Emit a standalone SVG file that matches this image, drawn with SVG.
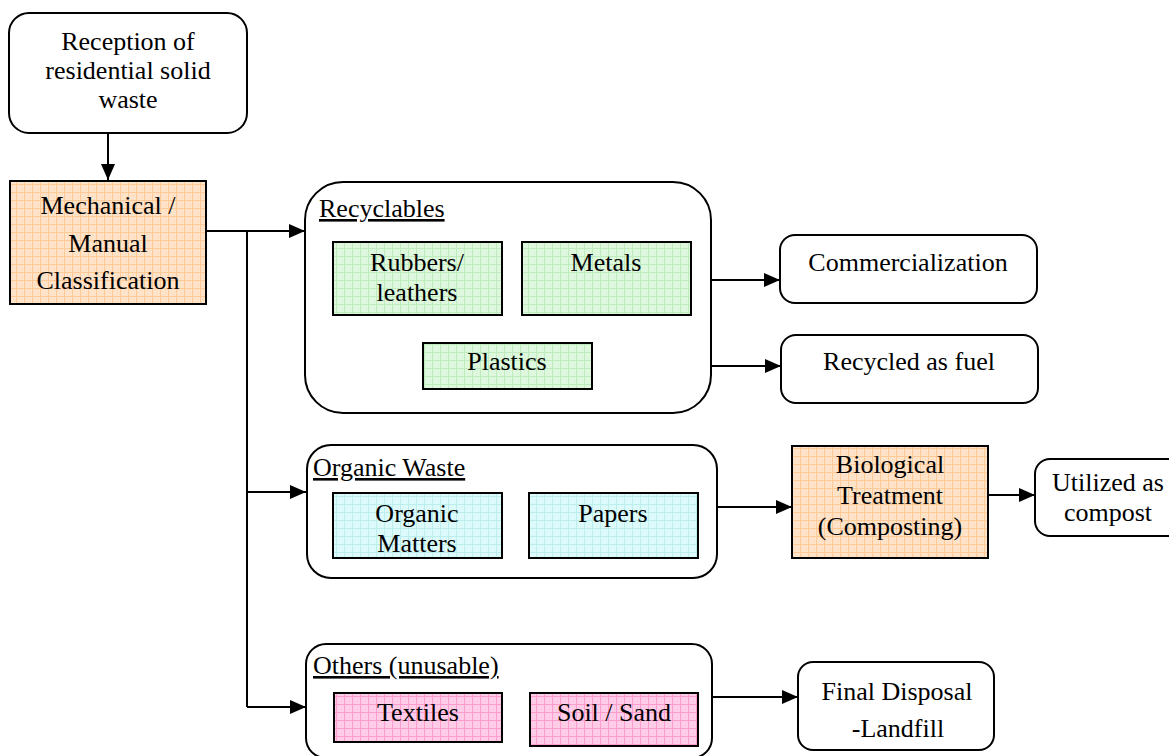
<svg xmlns="http://www.w3.org/2000/svg" width="1169" height="756" viewBox="0 0 1169 756">
<style>
.t{font-family:"Liberation Serif","Times New Roman",serif;font-size:26px;fill:#000;text-anchor:middle}
.l{font-family:"Liberation Serif","Times New Roman",serif;font-size:26px;fill:#000;text-decoration:underline}
.b{stroke:#000;stroke-width:2;fill:#fff}
.c{stroke:#000;stroke-width:2;fill:none}
</style>
<defs>
<pattern id="pOr" width="8" height="8" patternUnits="userSpaceOnUse"><rect width="8" height="8" fill="#FFE3C8"/><path d="M0 0.5H8M0.5 0V8" stroke="#FFC998" stroke-width="1"/></pattern>
<pattern id="pGr" width="8" height="8" patternUnits="userSpaceOnUse"><rect width="8" height="8" fill="#DDF8DD"/><path d="M0 0.5H8M0.5 0V8" stroke="#BFEBBF" stroke-width="1"/></pattern>
<pattern id="pCy" width="8" height="8" patternUnits="userSpaceOnUse"><rect width="8" height="8" fill="#DDFAFA"/><path d="M0 0.5H8M0.5 0V8" stroke="#BDEEEE" stroke-width="1"/></pattern>
<pattern id="pPk" width="8" height="8" patternUnits="userSpaceOnUse"><rect width="8" height="8" fill="#FFCCE8"/><path d="M0 0.5H8M0.5 0V8" stroke="#FF9CCE" stroke-width="1"/></pattern>
<marker id="ah" viewBox="0 0 16 14" refX="16" refY="7" markerWidth="16" markerHeight="14" markerUnits="userSpaceOnUse" orient="auto"><path d="M0 0L16 7L0 14Z" fill="#000"/></marker>
</defs>

<g id="connectors">
<path class="c" d="M108 133V180" marker-end="url(#ah)"/>
<path class="c" d="M206 231H305" marker-end="url(#ah)"/>
<path class="c" d="M247 231V707"/>
<path class="c" d="M247 492H306" marker-end="url(#ah)"/>
<path class="c" d="M247 707H306" marker-end="url(#ah)"/>
<path class="c" d="M711 280H780" marker-end="url(#ah)"/>
<path class="c" d="M592 366H781" marker-end="url(#ah)"/>
<path class="c" d="M717 507H792" marker-end="url(#ah)"/>
<path class="c" d="M988 495H1035" marker-end="url(#ah)"/>
<path class="c" d="M712 697H798" marker-end="url(#ah)"/>
</g>

<g id="reception">
<rect class="b" x="9" y="13" width="238" height="120" rx="20"/>
<text class="t" x="128" y="50">Reception of</text>
<text class="t" x="128" y="79">residential solid</text>
<text class="t" x="128" y="108">waste</text>
</g>

<g id="classification">
<rect x="10" y="181" width="196" height="123" fill="url(#pOr)" stroke="#000" stroke-width="2"/>
<text class="t" x="108" y="214">Mechanical /</text>
<text class="t" x="108" y="252">Manual</text>
<text class="t" x="108" y="289">Classification</text>
</g>

<g id="recyclables">
<rect class="b" x="305" y="182" width="406" height="231" rx="38"/>
<text class="l" x="319" y="217">Recyclables</text>
</g>
<g id="rubbers">
<rect x="333" y="242" width="169" height="73" fill="url(#pGr)" stroke="#000" stroke-width="2"/>
<text class="t" x="417" y="271">Rubbers/</text>
<text class="t" x="417" y="301">leathers</text>
</g>
<g id="metals">
<rect x="522" y="242" width="169" height="73" fill="url(#pGr)" stroke="#000" stroke-width="2"/>
<text class="t" x="606" y="271">Metals</text>
</g>
<g id="plastics">
<rect x="423" y="343" width="169" height="46" fill="url(#pGr)" stroke="#000" stroke-width="2"/>
<text class="t" x="507" y="370">Plastics</text>
</g>

<g id="commercialization">
<rect class="b" x="780" y="235" width="257" height="68" rx="15"/>
<text class="t" x="908" y="271">Commercialization</text>
</g>
<g id="fuel">
<rect class="b" x="781" y="335" width="257" height="68" rx="15"/>
<text class="t" x="909" y="370">Recycled as fuel</text>
</g>

<g id="organic">
<rect class="b" x="307" y="445" width="410" height="133" rx="24"/>
<text class="l" x="313" y="476">Organic Waste</text>
</g>
<g id="organic-matters">
<rect x="333" y="493" width="169" height="65" fill="url(#pCy)" stroke="#000" stroke-width="2"/>
<text class="t" x="417" y="522">Organic</text>
<text class="t" x="417" y="552">Matters</text>
</g>
<g id="papers">
<rect x="529" y="493" width="169" height="65" fill="url(#pCy)" stroke="#000" stroke-width="2"/>
<text class="t" x="613" y="522">Papers</text>
</g>

<g id="biological">
<rect x="792" y="446" width="196" height="112" fill="url(#pOr)" stroke="#000" stroke-width="2"/>
<text class="t" x="890" y="473">Biological</text>
<text class="t" x="890" y="504">Treatment</text>
<text class="t" x="890" y="535">(Composting)</text>
</g>
<g id="compost">
<rect class="b" x="1035" y="459" width="150" height="77" rx="15"/>
<text class="t" x="1108" y="491">Utilized as</text>
<text class="t" x="1108" y="521">compost</text>
</g>

<g id="others">
<rect class="b" x="306" y="644" width="406" height="114" rx="20"/>
<text class="l" x="313" y="674">Others (unusable)</text>
</g>
<g id="textiles">
<rect x="334" y="693" width="168" height="49" fill="url(#pPk)" stroke="#000" stroke-width="2"/>
<text class="t" x="418" y="721">Textiles</text>
</g>
<g id="soil">
<rect x="530" y="693" width="168" height="53" fill="url(#pPk)" stroke="#000" stroke-width="2"/>
<text class="t" x="614" y="721">Soil / Sand</text>
</g>

<g id="landfill">
<rect class="b" x="798" y="662" width="196" height="88" rx="15"/>
<text class="t" x="897" y="700">Final Disposal</text>
<text class="t" x="898" y="737">-Landfill</text>
</g>
</svg>
